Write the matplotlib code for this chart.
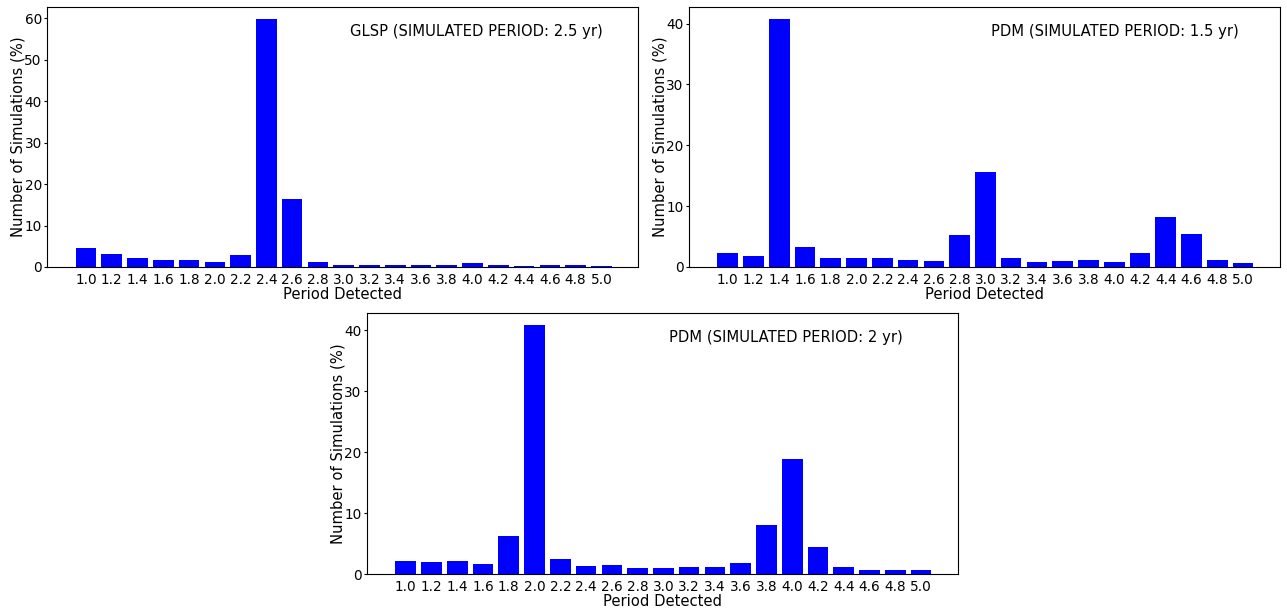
import numpy as np
import matplotlib
matplotlib.use('Agg')
import matplotlib.pyplot as plt
from matplotlib.ticker import MultipleLocator

periods = ['1.0', '1.2', '1.4', '1.6', '1.8', '2.0', '2.2', '2.4', '2.6', '2.8', '3.0',
           '3.2', '3.4', '3.6', '3.8', '4.0', '4.2', '4.4', '4.6', '4.8', '5.0']

# percentage of simulations per detected period
glsp_25 = [4.5, 3.05, 2.1, 1.6, 1.6, 1.1, 2.8, 59.7, 16.5, 1.1, 0.6,
           0.6, 0.6, 0.6, 0.6, 0.85, 0.6, 0.35, 0.6, 0.6, 0.35]
pdm_15 = [2.35, 1.86, 40.7, 3.33, 1.53, 1.53, 1.53, 1.2, 1.04, 5.3, 15.6,
          1.53, 0.87, 1.04, 1.2, 0.87, 2.35, 8.25, 5.46, 1.2, 0.71]
pdm_2 = [2.14, 1.98, 2.14, 1.65, 6.26, 40.8, 2.52, 1.32, 1.48, 0.99, 0.99,
         1.15, 1.15, 1.81, 8.07, 18.8, 4.45, 1.15, 0.66, 0.66, 0.66]

titles = ['GLSP (SIMULATED PERIOD: 2.5 yr)',
          'PDM (SIMULATED PERIOD: 1.5 yr)',
          'PDM (SIMULATED PERIOD: 2 yr)']

fs = 10.6      # labels and annotation
tfs = 9.8      # tick labels

fig = plt.figure(figsize=(12.87, 6.10), dpi=100)
ax1 = fig.add_axes([0.0368, 0.5623, 0.4589, 0.4262])
ax2 = fig.add_axes([0.5354, 0.5623, 0.4589, 0.4262])
ax3 = fig.add_axes([0.2852, 0.0590, 0.4589, 0.4280])

x = np.arange(len(periods))
for ax, vals, title in zip([ax1, ax2, ax3], [glsp_25, pdm_15, pdm_2], titles):
    ax.bar(x, vals, width=0.8, color='b')
    ax.set_xticks(x)
    ax.set_xticklabels(periods, fontsize=tfs)
    ax.tick_params(axis='x', length=0, pad=4)
    ax.tick_params(axis='y', labelsize=tfs, length=2, pad=2)
    ax.yaxis.set_major_locator(MultipleLocator(10))
    ax.set_xlim(-1.5, 21.42)
    ax.set_xlabel('Period Detected', fontsize=fs, labelpad=0)
    ax.set_ylabel('Number of Simulations (%)', fontsize=fs, labelpad=-1)
    ax.text(0.512, 0.905, title, transform=ax.transAxes, ha='left', va='center', fontsize=fs)

fig.savefig('out.png', dpi=100)
